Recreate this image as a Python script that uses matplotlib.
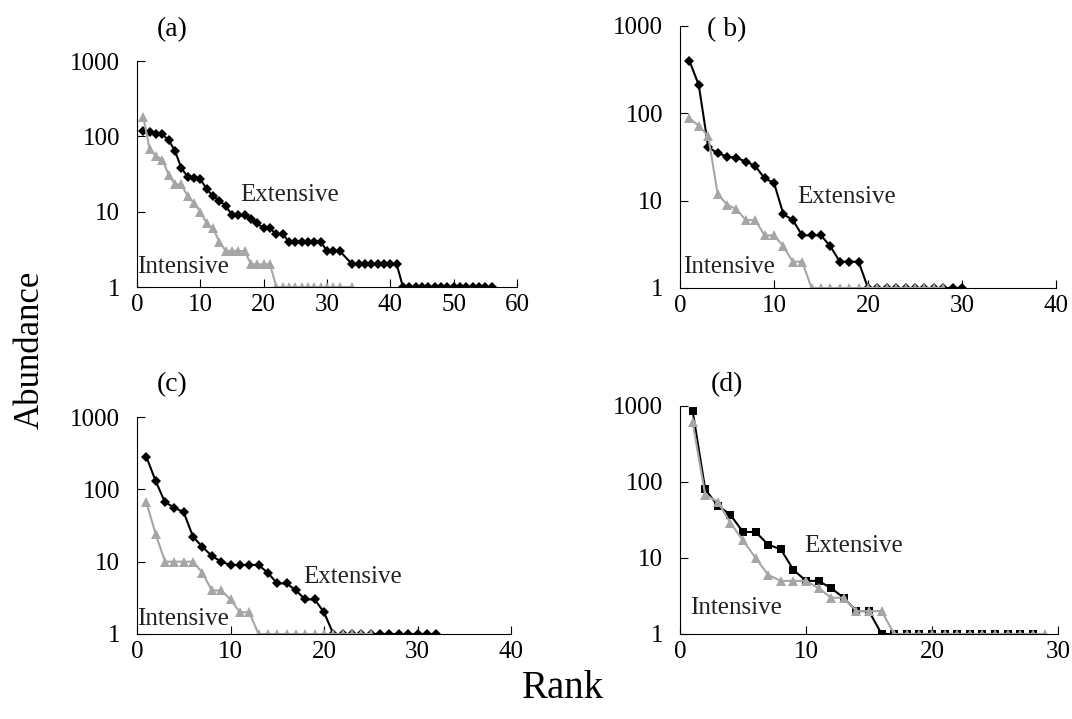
"""
Rank-abundance curves, extensive vs intensive, four panels.
"""
import matplotlib
matplotlib.use('Agg')
import matplotlib.pyplot as plt

plt.rcParams['font.family'] = ['Liberation Serif', 'DejaVu Serif']

# (a)
rank_a_ext = [1, 2, 3, 4, 5, 6, 7, 8, 9, 10, 11, 12, 13, 14, 15, 16, 17, 18, 19, 20,
              21, 22, 23, 24, 25, 26, 27, 28, 29, 30, 31, 32,
              34, 35, 36, 37, 38, 39, 40, 41, 42, 43, 44, 45, 46, 47, 48, 49, 50,
              51, 52, 53, 54, 55, 56]
abund_a_ext = [117, 114, 108, 106, 89, 64, 38, 29, 28, 27, 20, 16, 14, 12, 9, 9, 9, 8, 7, 6,
               6, 5, 5, 4, 4, 4, 4, 4, 4, 3, 3, 3,
               2, 2, 2, 2, 2, 2, 2, 2, 1, 1, 1, 1, 1, 1, 1, 1, 1,
               1, 1, 1, 1, 1, 1]
rank_a_int = [1, 2, 3, 4, 5, 6, 7, 8, 9, 10, 11, 12, 13, 14, 15, 16, 17, 18, 19, 20,
              21, 22, 23, 24, 25, 26, 27, 28, 29, 30, 31, 32, 34]
abund_a_int = [180, 67, 55, 49, 31, 23, 23, 16, 13, 10, 7, 6, 4, 3, 3, 3, 3, 2, 2, 2,
               2, 1, 1, 1, 1, 1, 1, 1, 1, 1, 1, 1, 1]

# (b)
abund_b_ext = [400, 210, 41, 35, 32, 31, 28, 25, 18, 16, 7, 6, 4, 4, 4, 3, 2, 2, 2, 1,
               1, 1, 1, 1, 1, 1, 1, 1, 1, 1]
abund_b_int = [88, 72, 55, 12, 9, 8, 6, 6, 4, 4, 3, 2, 2, 1, 1, 1, 1, 1, 1, 1,
               1, 1, 1, 1, 1, 1, 1, 1]

# (c)
abund_c_ext = [282, 130, 66, 56, 48, 22, 16, 12, 10, 9, 9, 9, 9, 7, 5, 5, 4, 3, 3, 2,
               1, 1, 1, 1, 1, 1, 1, 1, 1, 1, 1, 1]
abund_c_int = [66, 24, 10, 10, 10, 10, 7, 4, 4, 3, 2, 2, 1, 1, 1, 1, 1, 1, 1, 1,
               1, 1, 1, 1, 1]

# (d)
abund_d_ext = [870, 80, 49, 37, 22, 22, 15, 13, 7, 5, 5, 4, 3, 2, 2, 1, 1, 1, 1, 1,
               1, 1, 1, 1, 1, 1, 1, 1]
abund_d_int = [610, 68, 55, 29, 17, 10, 6, 5, 5, 5, 4, 3, 3, 2, 2, 2, 1, 1, 1, 1,
               1, 1, 1, 1, 1, 1, 1, 1, 1]

W, H = 1072, 719
GRAY = '#a6a6a6'

fig = plt.figure(figsize=(W / 100, H / 100), dpi=100)


def panel(box, xmax, ext, inten, ext_marker, tag, ext_pos, int_pos, tag_pos):
    l, t, r, b = box
    ax = fig.add_axes([l / W, 1 - b / H, (r - l) / W, (b - t) / H])
    ax.plot(ext[0], ext[1], '-', color='black', lw=1.5,
            marker=ext_marker, ms=5.5 if ext_marker == 'D' else 6, mew=0)
    ax.plot(inten[0], inten[1], '-', color=GRAY, lw=1.5,
            marker='^', ms=7, mew=0)
    ax.set_yscale('log')
    ax.set_ylim(1, 1000)
    ax.set_xlim(0, xmax)
    ax.set_yticks([1, 10, 100, 1000])
    ax.set_yticklabels(['1', '10', '100', '1000'])
    ax.minorticks_off()
    ax.set_xticks(range(0, xmax + 1, 10))
    for s in ['top', 'right']:
        ax.spines[s].set_visible(False)
    ax.tick_params(axis='both', direction='in', length=6, labelsize=18)
    ax.tick_params(axis='y', pad=12)
    ax.tick_params(axis='x', pad=5)
    ax.text(ext_pos[0], ext_pos[1], 'Extensive', transform=ax.transAxes,
            fontsize=18, va='center', ha='left', color='#222222')
    ax.text(int_pos[0], int_pos[1], 'Intensive', transform=ax.transAxes,
            fontsize=18, va='center', ha='left', color='#222222')
    fig.text(tag_pos[0] / W, 1 - tag_pos[1] / H, tag, fontsize=20,
             ha='center', va='center')
    return ax


panel((137, 61, 517, 287), 60, (rank_a_ext, abund_a_ext), (rank_a_int, abund_a_int),
      'D', '(a)', (0.271, 0.407), (0.0, 0.088), (172, 30))
panel((680, 26, 1056, 288), 40,
      (range(1, len(abund_b_ext) + 1), abund_b_ext),
      (range(1, len(abund_b_int) + 1), abund_b_int),
      'D', '( b)', (0.311, 0.347), (0.008, 0.08), (727, 30))
panel((137, 417, 511, 634), 40,
      (range(1, len(abund_c_ext) + 1), abund_c_ext),
      (range(1, len(abund_c_int) + 1), abund_c_int),
      'D', '(c)', (0.444, 0.263), (0.0, 0.069), (172, 385))
panel((680, 406, 1058, 634), 30,
      (range(1, len(abund_d_ext) + 1), abund_d_ext),
      (range(1, len(abund_d_int) + 1), abund_d_int),
      's', '(d)', (0.328, 0.386), (0.026, 0.114), (727, 385))

fig.text(30 / W, 1 - 350 / H, 'Abundance', rotation=90, fontsize=25,
         ha='center', va='center')
fig.text(563 / W, 1 - 688 / H, 'Rank', fontsize=28, ha='center', va='center')

fig.savefig('out.png', dpi=100)
